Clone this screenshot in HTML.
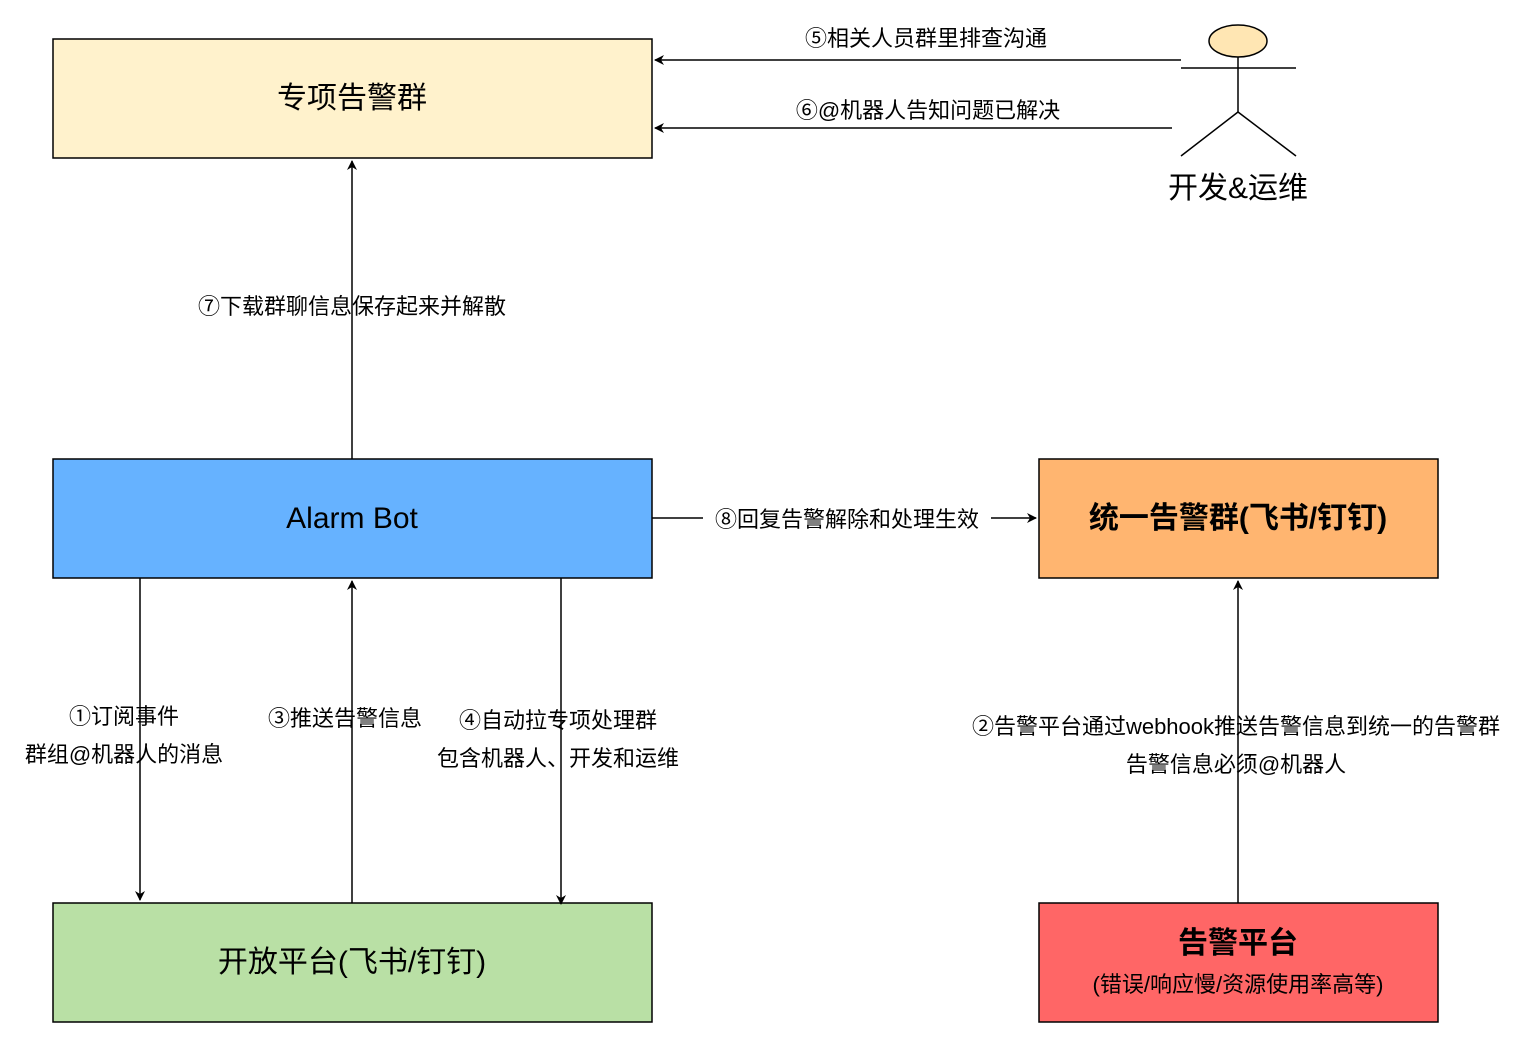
<!DOCTYPE html>
<html><head><meta charset="utf-8"><style>
html,body{margin:0;padding:0;background:#fff;}
svg{display:block;font-family:"Liberation Sans","Noto Sans CJK SC",sans-serif;}
</style></head><body>
<svg width="1540" height="1039" viewBox="0 0 1540 1039" xmlns="http://www.w3.org/2000/svg">
<defs>
<marker id="a" markerWidth="10" markerHeight="10" refX="9" refY="5" orient="auto" markerUnits="userSpaceOnUse">
<path d="M0,0 L10,5 L0,10 L3,5 Z" fill="#000"/>
</marker>
</defs>
<g stroke="#000" stroke-width="1.5">
<rect x="53" y="39" width="599" height="119" fill="#fff2cc"/>
<rect x="53" y="459" width="599" height="119" fill="#66b2ff"/>
<rect x="53" y="903" width="599" height="119" fill="#b9e0a5"/>
<rect x="1039" y="459" width="399" height="119" fill="#ffb570"/>
<rect x="1039" y="903" width="399" height="119" fill="#ff6666"/>
</g>
<g stroke="#000" stroke-width="1.5" fill="none">
<line x1="1181" y1="60" x2="655" y2="60" marker-end="url(#a)"/>
<line x1="1172" y1="128" x2="655" y2="128" marker-end="url(#a)"/>
<line x1="352" y1="459" x2="352" y2="161" marker-end="url(#a)"/>
<line x1="652" y1="518" x2="1036" y2="518" marker-end="url(#a)"/>
<line x1="140" y1="578" x2="140" y2="900" marker-end="url(#a)"/>
<line x1="352" y1="903" x2="352" y2="581" marker-end="url(#a)"/>
<line x1="561" y1="578" x2="561" y2="904" marker-end="url(#a)"/>
<line x1="1238" y1="903" x2="1238" y2="581" marker-end="url(#a)"/>
<ellipse cx="1238" cy="41" rx="29" ry="16" fill="#ffe6b3"/>
<line x1="1238" y1="57" x2="1238" y2="112"/>
<line x1="1181" y1="68" x2="1296" y2="68"/>
<line x1="1238" y1="112" x2="1181" y2="156"/>
<line x1="1238" y1="112" x2="1296" y2="156"/>
</g>
<rect x="703" y="504" width="288" height="28" fill="#fff"/>
<g fill="#000" text-anchor="middle">
<text x="352" y="108" font-size="30">专项告警群</text>
<text x="352" y="528" font-size="30">Alarm Bot</text>
<text x="352" y="972" font-size="30">开放平台(飞书/钉钉)</text>
<text x="1238" y="528" font-size="30" font-weight="bold">统一告警群(飞书/钉钉)</text>
<text x="1238" y="953" font-size="30" font-weight="bold">告警平台</text>
<text x="1238" y="992" font-size="22">(错误/响应慢/资源使用率高等)</text>
<text x="1238" y="198" font-size="30">开发&amp;运维</text>
<text x="926" y="46" font-size="22">⑤相关人员群里排查沟通</text>
<text x="928" y="118" font-size="22">⑥@机器人告知问题已解决</text>
<text x="352" y="314" font-size="22">⑦下载群聊信息保存起来并解散</text>
<text x="847" y="527" font-size="22">⑧回复告警解除和处理生效</text>
<text x="124" y="724" font-size="22">①订阅事件</text>
<text x="124" y="762" font-size="22">群组@机器人的消息</text>
<text x="345" y="726" font-size="22">③推送告警信息</text>
<text x="558" y="728" font-size="22">④自动拉专项处理群</text>
<text x="558" y="766" font-size="22">包含机器人、开发和运维</text>
<text x="1236" y="734" font-size="22">②告警平台通过webhook推送告警信息到统一的告警群</text>
<text x="1236" y="772" font-size="22">告警信息必须@机器人</text>
</g>
</svg>
</body></html>
